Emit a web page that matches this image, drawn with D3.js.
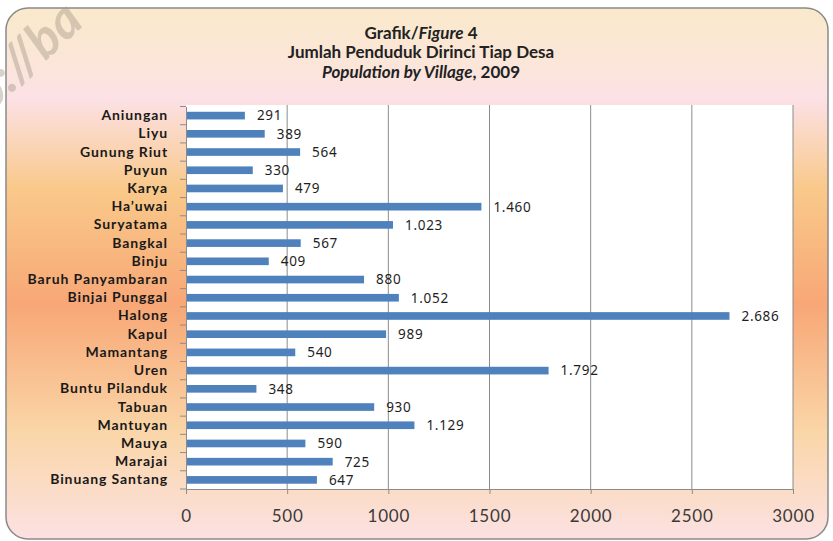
<!DOCTYPE html>
<html><head><meta charset="utf-8">
<script src="https://cdn.jsdelivr.net/npm/d3@7"></script>
<style>body{margin:0;background:#fff}svg{display:block}</style>
</head><body>
<svg id="c" width="833" height="541"></svg>
<script>
const villages = ["Aniungan","Liyu","Gunung Riut","Puyun","Karya","Ha’uwai","Suryatama","Bangkal","Binju","Baruh Panyambaran","Binjai Punggal","Halong","Kapul","Mamantang","Uren","Buntu Pilanduk","Tabuan","Mantuyan","Mauya","Marajai","Binuang Santang"];
const population = [291,389,564,330,479,1460,1023,567,409,880,1052,2686,989,540,1792,348,930,1129,590,725,647];
const xTicks = [0,500,1000,1500,2000,2500,3000];
const titleLines = ["Grafik/", "Figure", " 4"];

const svg = d3.select("#c");
const defs = svg.append("defs");
const g = defs.append("linearGradient").attr("id","bg").attr("x1",0).attr("y1",0).attr("x2",0).attr("y2",1);
[[0,"#FAE9CB"],[0.1,"#FBE6D8"],[0.17,"#FCE1E6"],[0.34,"#F9C98A"],[0.56,"#F8A776"],[0.8,"#FAD6A8"],[1,"#FCE1E2"]]
  .forEach(([o,c])=>g.append("stop").attr("offset",o).attr("stop-color",c));

svg.append("rect").attr("x",6).attr("y",8).attr("width",822).attr("height",531)
  .attr("rx",22).attr("fill","url(#bg)").attr("stroke","#8a8a8a").attr("stroke-width",1.5);

// watermark
svg.append("text").attr("transform","translate(-10,113) rotate(-43)")
  .attr("font-family","Lato").attr("font-weight","bold").attr("font-style","italic")
  .attr("font-size",52).attr("fill","#a89c8c").attr("opacity",0.45).text("p://ba");

// title
const T = svg.append("g").attr("font-family","Lato").attr("font-size",17).attr("fill","#222").attr("text-anchor","middle");
const t1 = T.append("text").attr("x",421).attr("y",39).attr("font-weight","bold");
t1.append("tspan").text(titleLines[0]);
t1.append("tspan").attr("font-style","italic").text(titleLines[1]);
t1.append("tspan").text(titleLines[2]);
T.append("text").attr("x",421).attr("y",58).attr("font-weight","bold").text("Jumlah Penduduk Dirinci Tiap Desa");
const t3 = T.append("text").attr("x",421).attr("y",78).attr("font-weight","bold");
t3.append("tspan").attr("font-style","italic").text("Population by Village");
t3.append("tspan").text(", 2009");

const L=186, R=793, TOP=106.5, BOT=489;
const x = d3.scaleLinear().domain([0,3000]).range([L,R]);
const y = d3.scaleBand().domain(villages).range([TOP,BOT]).paddingInner(0.58).paddingOuter(0.29);

svg.append("rect").attr("x",L).attr("y",TOP-1.5).attr("width",R-L).attr("height",BOT-TOP+1.5).attr("fill","#fff");

// gridlines
svg.append("g").selectAll("line").data(xTicks.filter(d=>d>0)).join("line")
  .attr("x1",d=>x(d)).attr("x2",d=>x(d)).attr("y1",TOP-1.5).attr("y2",BOT)
  .attr("stroke","#8c8c8c").attr("stroke-width",1);

// bars
svg.append("g").selectAll("rect").data(population).join("rect")
  .attr("x",L).attr("y",(d,i)=>y(villages[i])).attr("height",y.bandwidth())
  .attr("width",d=>x(d)-L).attr("fill","#4F81BD");

// value labels
const fmt = d3.formatLocale({decimal:",",thousands:".",grouping:[3],currency:["",""]}).format(",d");
svg.append("g").attr("font-family","Noto Sans").attr("font-size",13.5).attr("fill","#1e1e1e")
  .selectAll("text").data(population).join("text")
  .attr("x",d=>x(d)+12).attr("y",(d,i)=>y(villages[i])+y.bandwidth()/2).attr("dy","0.36em")
  .attr("letter-spacing",0.7).text(d=>fmt(d));

// x axis
const xa = svg.append("g").attr("transform",`translate(0,${BOT})`)
  .call(d3.axisBottom(x).tickValues(xTicks).tickSize(5).tickPadding(16).tickFormat(d3.format("d")));
xa.select(".domain").attr("stroke","#8c8c8c");
xa.selectAll(".tick line").attr("stroke","#8c8c8c");
xa.selectAll("text").attr("font-family","Lato").attr("font-size",17).attr("fill","#3a3a3a").attr("letter-spacing",0.8);

// y axis
const ya = svg.append("g").attr("transform",`translate(${L},0)`)
  .call(d3.axisLeft(y).tickSize(0).tickPadding(18));
ya.select(".domain").attr("stroke","#8c8c8c");
ya.selectAll("text").attr("font-family","Lato").attr("font-weight","bold").attr("font-size",14).attr("fill","#1a1a1a").attr("letter-spacing",0.9);
// band boundary ticks
const bounds = villages.map(v=>y(v)-y.step()*y.paddingInner()/2).concat([BOT]);
svg.append("g").selectAll("line").data(bounds).join("line")
  .attr("x1",L-6).attr("x2",L).attr("y1",d=>d).attr("y2",d=>d).attr("stroke","#8c8c8c");
</script>
</body></html>
